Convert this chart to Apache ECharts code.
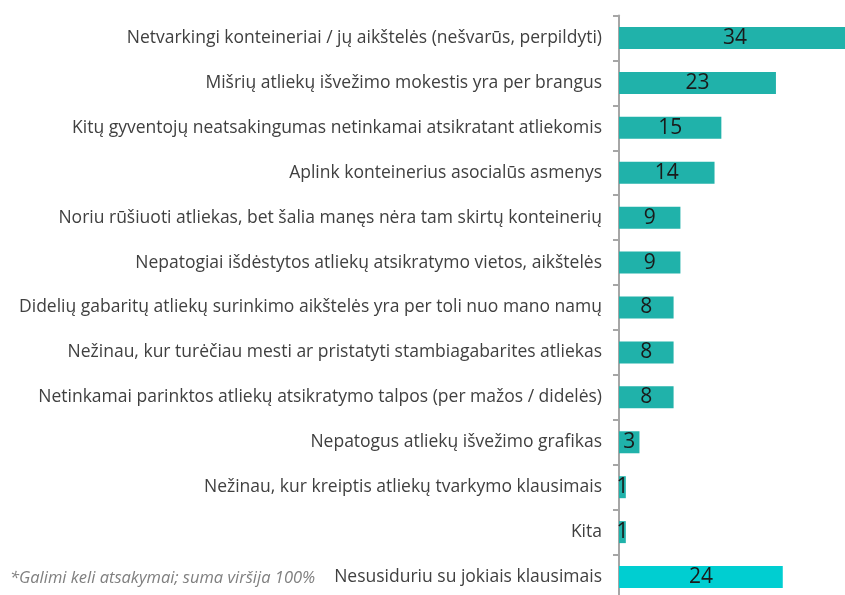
<!DOCTYPE html>
<html>
<head>
  <meta charset="utf-8">
  <title>ECharts</title>
  <script src="https://cdn.jsdelivr.net/npm/echarts@6/dist/echarts.min.js"></script>
  <style>
  html, body { margin: 0; padding: 0; background: #fff; }
  #main { width: 845px; height: 595px; }
  </style>
</head>
<body>
  <div id="main"></div>
  <script type="text/javascript">
  var categories = [
    'Netvarkingi konteineriai / jų aikštelės (nešvarūs, perpildyti)',
    'Mišrių atliekų išvežimo mokestis yra per brangus',
    'Kitų gyventojų neatsakingumas netinkamai atsikratant atliekomis',
    'Aplink konteinerius asocialūs asmenys',
    'Noriu rūšiuoti atliekas, bet šalia manęs nėra tam skirtų konteinerių',
    'Nepatogiai išdėstytos atliekų atsikratymo vietos, aikštelės',
    'Didelių gabaritų atliekų surinkimo aikštelės yra per toli nuo mano namų',
    'Nežinau, kur turėčiau mesti ar pristatyti stambiagabarites atliekas',
    'Netinkamai parinktos atliekų atsikratymo talpos (per mažos / didelės)',
    'Nepatogus atliekų išvežimo grafikas',
    'Nežinau, kur kreiptis atliekų tvarkymo klausimais',
    'Kita',
    'Nesusiduriu su jokiais klausimais'
  ];
  var values = [34, 23, 15, 14, 9, 9, 8, 8, 8, 3, 1, 1, 24];
  var footnote = '*Galimi keli atsakymai; suma viršija 100%';

  var myChart = echarts.init(document.getElementById('main'));
  var option = {
    backgroundColor: '#ffffff',
    animation: false,
    graphic: [{
      type: 'text',
      left: 10,
      top: 570,
      style: {
        text: footnote,
        font: 'italic 16.5px "Open Sans"',
        fill: '#7f7f7f'
      }
    }],
    grid: {
      left: 619,
      width: 232,
      top: 15.5,
      height: 584,
      outerBoundsMode: 'none'
    },
    xAxis: {
      type: 'value',
      min: 0,
      max: 34,
      show: false
    },
    yAxis: {
      type: 'category',
      inverse: true,
      data: categories,
      axisLine: { show: true, lineStyle: { color: '#a6a6a6', width: 2 } },
      axisTick: { show: true, length: 6, lineStyle: { color: '#a6a6a6', width: 2 } },
      axisLabel: {
        margin: 17,
        fontFamily: 'Open Sans',
        fontSize: 17.5,
        color: '#404040'
      }
    },
    series: [{
      type: 'bar',
      data: values,
      barWidth: 22,
      itemStyle: {
        color: function (p) {
          return p.dataIndex === values.length - 1 ? '#00ced1' : '#20b2aa';
        }
      },
      label: {
        show: true,
        position: 'inside',
        fontFamily: 'Open Sans',
        fontSize: 21,
        color: '#1a1a1a'
      }
    }]
  };
  myChart.setOption(option);
  window.onresize = myChart.resize;
  </script>
</body>
</html>
